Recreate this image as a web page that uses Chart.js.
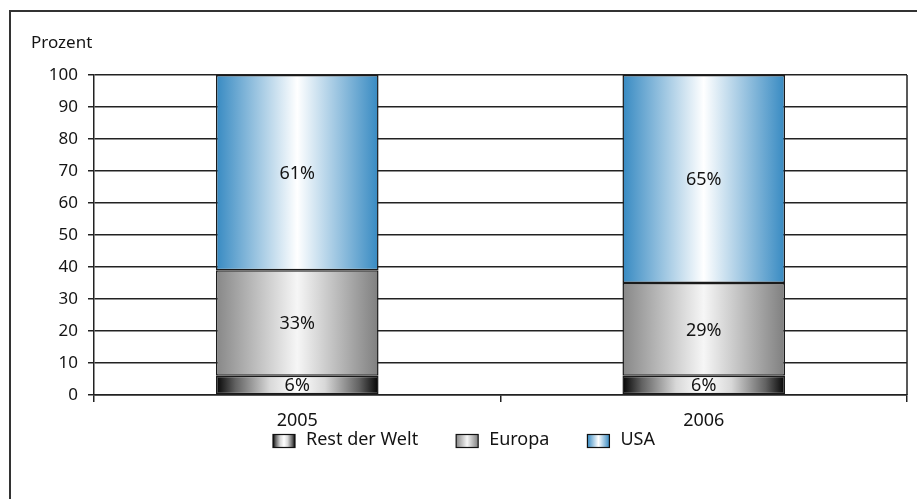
<!DOCTYPE html>
<html>
<head>
<meta charset="utf-8">
<script src="https://cdn.jsdelivr.net/npm/chart.js@4/dist/chart.umd.min.js"></script>
<style>
  html, body { margin: 0; padding: 0; background: #ffffff; }
  #wrap { width: 917px; height: 499px; position: relative; }
</style>
</head>
<body>
<div id="wrap"><canvas id="c" width="917" height="499"></canvas></div>
<script>
// Jahre und Anteile je Region (Prozent)
const years = ['2005', '2006'];
const restDerWelt = [6, 6];
const europa = [33, 29];
const usa = [61, 65];
const yTicks = [0, 10, 20, 30, 40, 50, 60, 70, 80, 90, 100];
const seriesNames = ['Rest der Welt', 'Europa', 'USA'];

const FONT = '"Noto Sans", "DejaVu Sans", sans-serif';
const INK = '#141414';
const LINE = '#222222';

// Horizontal colour ramps (edge → centre → edge) for each region
const ramps = {
  'Rest der Welt': [[0, '#030303'], [0.12, '#626262'], [0.33, '#d8d8d8'], [0.5, '#ffffff'], [0.67, '#d8d8d8'], [0.88, '#626262'], [1, '#030303']],
  'Europa': [[0, '#878787'], [0.5, '#f6f6f6'], [1, '#7f7f7f']],
  'USA': [[0, '#378ac2'], [0.5, '#ffffff'], [1, '#378ac2']]
};

function makeGradient(ctx, name, x0, x1) {
  const g = ctx.createLinearGradient(x0, 0, x1, 0);
  ramps[name].forEach(([p, c]) => g.addColorStop(p, c));
  return g;
}

const CAT_PCT = 0.4;

function barFill(name) {
  return (context) => {
    const chart = context.chart;
    const xs = chart.scales.x;
    if (!chart.chartArea || !xs || context.dataIndex === undefined) {
      return ramps[name][0][1];
    }
    const cx = xs.getPixelForValue(context.dataIndex);
    const half = (xs.width / years.length) * CAT_PCT / 2;
    return makeGradient(chart.ctx, name, cx - half, cx + half);
  };
}

const seriesData = [restDerWelt, europa, usa];

// Outer frame, axis caption and right border of the plot
const framePlugin = {
  id: 'frame',
  beforeDraw(chart) {
    const ctx = chart.ctx;
    ctx.save();
    ctx.strokeStyle = '#333333';
    ctx.lineWidth = 2;
    ctx.beginPath();
    ctx.moveTo(10, chart.height + 2);
    ctx.lineTo(10, 11);
    ctx.lineTo(chart.width + 2, 11);
    ctx.stroke();
    ctx.fillStyle = INK;
    ctx.font = '17px ' + FONT;
    ctx.textBaseline = 'alphabetic';
    ctx.textAlign = 'left';
    ctx.fillText('Prozent', 31, 48);
    ctx.restore();
  },
  afterDraw(chart) {
    const ctx = chart.ctx;
    const a = chart.chartArea;
    ctx.save();
    ctx.strokeStyle = LINE;
    ctx.lineWidth = 1.5;
    ctx.beginPath();
    ctx.moveTo(a.right, a.top);
    ctx.lineTo(a.right, a.bottom);
    ctx.stroke();
    ctx.restore();
  }
};

// Percentage labels in the middle of each segment
const valueLabels = {
  id: 'valueLabels',
  afterDatasetsDraw(chart) {
    const ctx = chart.ctx;
    ctx.save();
    ctx.fillStyle = INK;
    ctx.font = '18px ' + FONT;
    ctx.textAlign = 'center';
    ctx.textBaseline = 'middle';
    chart.data.datasets.forEach((ds, di) => {
      chart.getDatasetMeta(di).data.forEach((el, i) => {
        const y = (el.y + el.base) / 2;
        ctx.fillText(ds.data[i] + '%', el.x, y + 1);
      });
    });
    ctx.restore();
  }
};

// Legend row beneath the axis
const legendRow = {
  id: 'legendRow',
  afterDraw(chart) {
    const ctx = chart.ctx;
    const boxW = 22, boxH = 13, gapText = 11, gapItem = 38;
    const cy = 440;
    ctx.save();
    ctx.font = '18px ' + FONT;
    const items = chart.data.datasets.map(ds => ({ name: ds.label, w: boxW + gapText + ctx.measureText(ds.label).width }));
    const total = items.reduce((s, it) => s + it.w, 0) + gapItem * (items.length - 1);
    let x = Math.round((10 + chart.width) / 2 - total / 2);
    items.forEach(it => {
      const top = Math.round(cy - boxH / 2) + 0.5;
      ctx.fillStyle = makeGradient(ctx, it.name, x, x + boxW);
      ctx.fillRect(x, top, boxW, boxH);
      ctx.strokeStyle = '#111111';
      ctx.lineWidth = 1.2;
      ctx.strokeRect(x, top, boxW, boxH);
      ctx.fillStyle = INK;
      ctx.textAlign = 'left';
      ctx.textBaseline = 'middle';
      ctx.fillText(it.name, x + boxW + gapText, cy);
      x += it.w + gapItem;
    });
    ctx.restore();
  }
};

new Chart(document.getElementById('c'), {
  type: 'bar',
  data: {
    labels: years,
    datasets: seriesNames.map((name, i) => ({
      label: name,
      data: seriesData[i],
      backgroundColor: barFill(name),
      borderColor: '#1a1a1a',
      borderWidth: 1.5,
      borderSkipped: false,
      categoryPercentage: CAT_PCT,
      barPercentage: 1
    }))
  },
  options: {
    responsive: false,
    animation: false,
    devicePixelRatio: 1,
    layout: { padding: { left: 0, top: 75, right: 10, bottom: 71 } },
    plugins: {
      legend: { display: false },
      tooltip: { enabled: false }
    },
    scales: {
      x: {
        stacked: true,
        offset: true,
        grid: {
          offset: true,
          drawOnChartArea: false,
          drawTicks: true,
          tickLength: 7,
          color: LINE,
          lineWidth: 1.5
        },
        border: { display: true, color: LINE, width: 1.5 },
        ticks: {
          color: INK,
          font: { family: FONT, size: 18 },
          padding: 8
        },
        afterFit(scale) { scale.height = 33; }
      },
      y: {
        stacked: true,
        min: 0,
        max: 100,
        afterBuildTicks(scale) { scale.ticks = yTicks.map(v => ({ value: v })); },
        grid: {
          color: LINE,
          lineWidth: 1.5,
          drawTicks: true,
          tickLength: 6
        },
        border: { display: true, color: LINE, width: 1.5 },
        ticks: {
          color: INK,
          font: { family: FONT, size: 17 },
          padding: 10
        },
        afterFit(scale) { scale.width = 94; }
      }
    }
  },
  plugins: [framePlugin, valueLabels, legendRow]
});
</script>
</body>
</html>
